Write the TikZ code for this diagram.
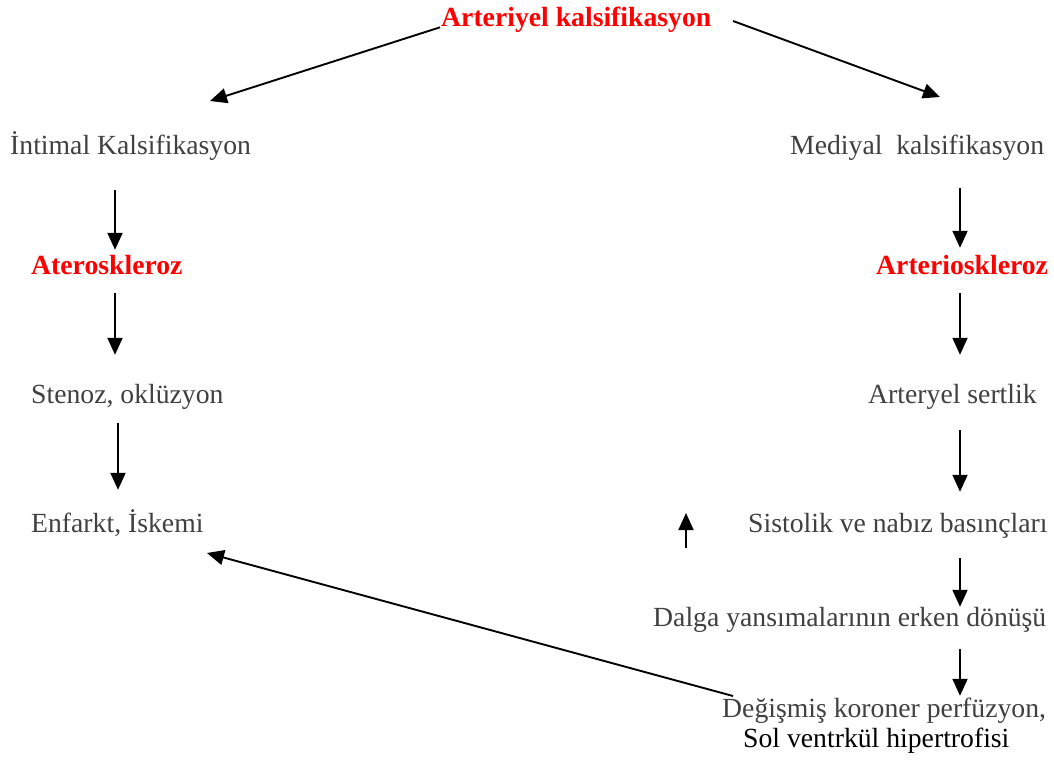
\documentclass[tikz,border=0pt]{standalone}
\usepackage{fontspec}
\setmainfont{Liberation Serif}
\usetikzlibrary{arrows.meta}
\definecolor{txtgray}{RGB}{64,64,64}
\tikzset{
  lbl/.style={anchor=base west, inner sep=0pt, text height=19pt, text depth=7pt,
    text=txtgray, font=\fontsize{27.7}{32}\selectfont},
  hot/.style={lbl, text=red, font=\fontsize{27.7}{32}\selectfont\bfseries},
  arr/.style={line width=1.9pt, -{Triangle[length=17pt,width=15pt]}}
}
\begin{document}
\begin{tikzpicture}[x=1pt,y=-1pt]
  \useasboundingbox (0,0) rectangle (1054,767);
  % labels
  \node[hot] (top) at (441,27) {Arteriyel kalsifikasyon};
  \node[lbl] (intimal) at (10,155) {İntimal Kalsifikasyon};
  \node[lbl] (mediyal) at (790,155) {Mediyal\ \ kalsifikasyon};
  \node[hot] (ater) at (31,275) {Ateroskleroz};
  \node[hot] (arterio) at (876,275) {Arterioskleroz};
  \node[lbl] (stenoz) at (31,403) {Stenoz, oklüzyon};
  \node[lbl] (sertlik) at (868,403) {Arteryel sertlik};
  \node[lbl] (enfarkt) at (31,532) {Enfarkt, İskemi};
  \node[lbl] (sistolik) at (748,532) {Sistolik ve nabız basınçları};
  \node[lbl] (dalga) at (653,626) {Dalga yansımalarının erken dönüşü};
  \node[lbl] (degismis) at (722,717) {Değişmiş koroner perfüzyon,};
  \node[lbl, text=black] (sol) at (743,747) {Sol ventrkül hipertrofisi};
  % columns and free ends
  \coordinate (lcol) at (115,0);
  \coordinate (lcol2) at (118,0);
  \coordinate (rcol) at (960,0);
  \coordinate (ltip) at (210,101);
  \coordinate (rtip) at (940,97);
  \coordinate (rstart) at (733,21);
  \coordinate (upfoot) at (686,548);
  \coordinate (uptip) at (686,513);
  \coordinate (backstart) at (733,696);
  \coordinate (backtip) at (207,553);
  % arrows
  \draw[arr, shorten <=1pt] (top.base west) -- (ltip);
  \draw[arr] (rstart) -- (rtip);
  \draw[arr, shorten <=28pt, shorten >=6pt] (intimal.south -| lcol) -- (ater.north -| lcol);
  \draw[arr, shorten <=11pt, shorten >=29pt] (ater.south -| lcol) -- (stenoz.north -| lcol);
  \draw[arr, shorten <=13pt, shorten >=23pt] (stenoz.south -| lcol2) -- (enfarkt.north -| lcol2);
  \draw[arr, shorten <=26pt, shorten >=8pt] (mediyal.south -| rcol) -- (arterio.north -| rcol);
  \draw[arr, shorten <=11pt, shorten >=29pt] (arterio.south -| rcol) -- (sertlik.north -| rcol);
  \draw[arr, shorten <=20pt, shorten >=21pt] (sertlik.south -| rcol) -- (sistolik.north -| rcol);
  \draw[arr, shorten <=19pt] (sistolik.south -| rcol) -- (dalga.north -| rcol);
  \draw[arr, shorten <=16pt, shorten >=2pt] (dalga.south -| rcol) -- (degismis.north -| rcol);
  \draw[arr] (upfoot) -- (uptip);
  \draw[arr] (backstart) -- (backtip);
\end{tikzpicture}
\end{document}
